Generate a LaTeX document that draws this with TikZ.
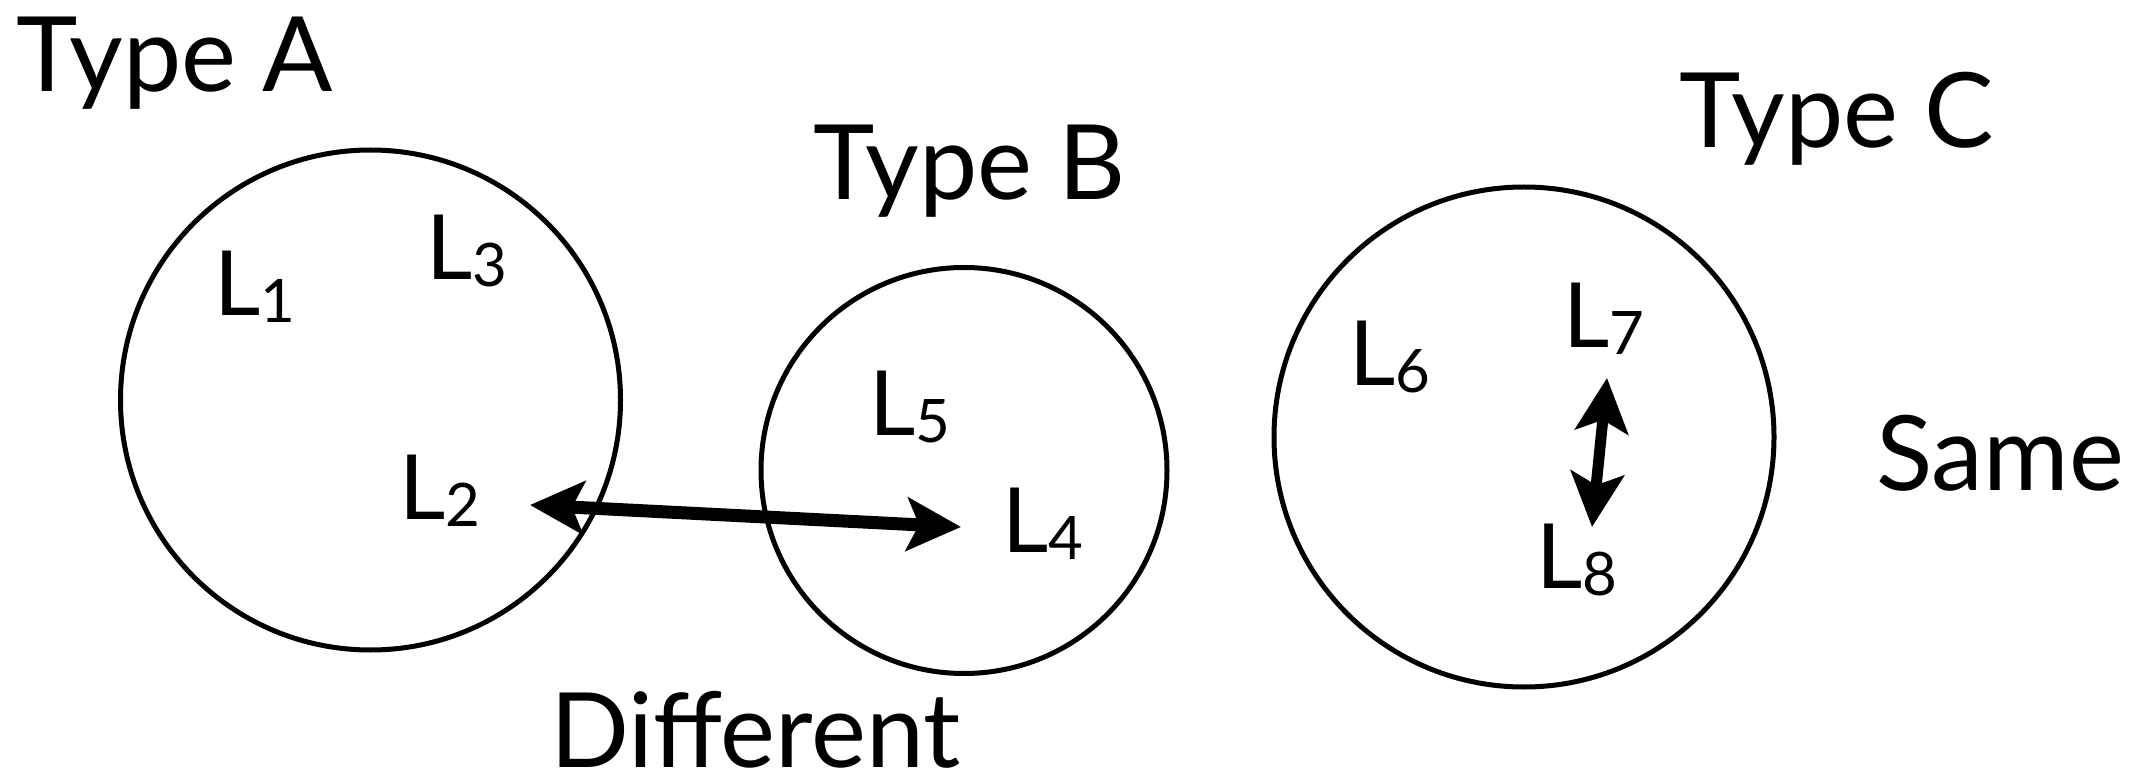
\documentclass[tikz,border=0pt]{standalone}
\usepackage{fontspec}
\setmainfont{Lato}
\usetikzlibrary{arrows.meta}
\newcommand{\Lsub}[1]{L\raisebox{-3.5pt}{\fontsize{30}{30}\selectfont #1}}
\tikzset{
  ring/.style={circle, draw, line width=2.5pt, inner sep=0pt},
  bigtext/.style={anchor=base west, inner sep=0pt, outer sep=0pt, font=\fontsize{52}{52}\selectfont},
  lab/.style={anchor=base west, inner sep=0pt, outer sep=0pt, font=\fontsize{45}{45}\selectfont},
  dblarrow/.style={{Stealth[length=27pt,width=26.5pt,inset=6pt]}-{Stealth[length=27pt,width=26.5pt,inset=6pt]}}
}
\begin{document}
\begin{tikzpicture}[x=0.5pt,y=-0.5pt]
\useasboundingbox (0,0) rectangle (2138,775);
% circles
\node[ring, minimum size=250pt] (cA) at (370.5,400) {};
\node[ring, minimum size=203pt] (cB) at (964,470.5) {};
\node[ring, minimum size=250pt] (cC) at (1524,437) {};
% titles
\node[bigtext] (tA) at (17,92) {Type A};
\node[bigtext] (tB) at (813,200) {Type B};
\node[bigtext] (tC) at (1679,148) {Type C};
\node[bigtext] (diff) at (550,767) {Different};
\node[bigtext] (same) at (1876,490) {Same};
% labels
\node[lab] (L1) at (214,316) {\Lsub{1}};
\node[lab] (L3) at (426,280) {\Lsub{3}};
\node[lab] (L2) at (399,519) {\Lsub{2}};
\node[lab] (L5) at (869,436) {\Lsub{5}};
\node[lab] (L4) at (1002,552) {\Lsub{4}};
\node[lab] (L6) at (1349,386) {\Lsub{6}};
\node[lab] (L7) at (1563,348) {\Lsub{7}};
\node[lab] (L8) at (1536,588) {\Lsub{8}};
% arrow ends
\coordinate (eA) at (530,505);
\coordinate (eB) at (961,527);
\coordinate (e7) at (1607,378);
\coordinate (e8) at (1592,527);
\draw[dblarrow, line width=6.5pt] (eA) -- (eB);
\draw[dblarrow, line width=5.5pt] (e7) -- (e8);
\end{tikzpicture}
\end{document}
